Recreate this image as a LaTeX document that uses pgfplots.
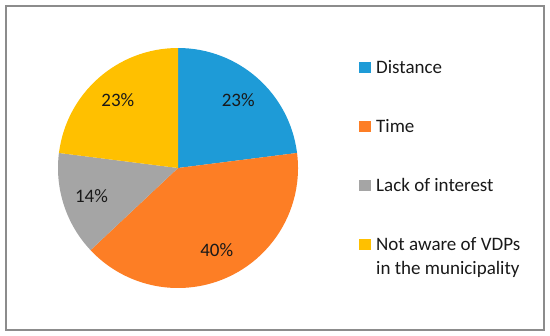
\documentclass[border=0pt]{standalone}
\usepackage{fontspec}
\setmainfont{Carlito}
\usepackage{pgfplots}
\usepackage{pgfplotstable}
\pgfplotsset{compat=1.18}

\definecolor{cDist}{RGB}{30,155,215}
\definecolor{cTime}{RGB}{253,126,37}
\definecolor{cLack}{RGB}{165,165,165}
\definecolor{cAware}{RGB}{255,192,0}
\definecolor{txt}{RGB}{25,25,25}

% share of each reason, in %
\pgfplotstableread[col sep=comma]{
value,color
23,cDist
40,cTime
14,cLack
23,cAware
}\piedata

\begin{document}
\begin{tikzpicture}[font=\fontsize{19bp}{23bp}\selectfont]
\useasboundingbox (0,0) rectangle (550bp,336bp);

% start, end and middle angle of each slice, clockwise from the top
\def\curangle{90}
\pgfplotsforeachungrouped \i in {0,...,3}{%
  \pgfplotstablegetelem{\i}{value}\of\piedata
  \let\val\pgfplotsretval
  \pgfmathsetmacro{\endangle}{\curangle-3.6*\val}
  \pgfmathsetmacro{\midangle}{(\curangle+\endangle)/2}
  \expandafter\xdef\csname sa\i\endcsname{\curangle}
  \expandafter\xdef\csname ea\i\endcsname{\endangle}
  \expandafter\xdef\csname ma\i\endcsname{\midangle}
  \expandafter\xdef\csname val\i\endcsname{\val}
  \pgfplotstablegetelem{\i}{color}\of\piedata
  \colorlet{slice\i}{\pgfplotsretval}
  \xdef\curangle{\endangle}
}

\begin{axis}[
    x=1bp, y=1bp,
    xmin=0, xmax=550, ymin=0, ymax=336,
    anchor=origin, at={(0,0)},
    hide axis, clip=false,
  ]
  \draw[black!45, line width=1.4bp] (axis cs:6,6) rectangle (axis cs:544,330);

  \pgfplotsinvokeforeach{0,...,3}{
    \fill[slice#1] (axis cs:178,168) -- ++(\csname sa#1\endcsname:120bp)
      arc[start angle=\csname sa#1\endcsname, end angle=\csname ea#1\endcsname, radius=120bp] -- cycle;
    \path (axis cs:178,168) ++(\csname ma#1\endcsname:91bp)
      node[text=txt] {\csname val#1\endcsname\%};
  }

  % legend
  \fill[cDist]  (axis cs:359,262.5) rectangle (axis cs:370.5,274);
  \fill[cTime]  (axis cs:359,203.5) rectangle (axis cs:370.5,215);
  \fill[cLack]  (axis cs:359,144.5) rectangle (axis cs:370.5,156);
  \fill[cAware] (axis cs:359,85.5)  rectangle (axis cs:370.5,97);
  \node[anchor=base west, inner sep=0, text=txt] at (axis cs:376,262.5) {Distance};
  \node[anchor=base west, inner sep=0, text=txt] at (axis cs:376,203.5) {Time};
  \node[anchor=base west, inner sep=0, text=txt] at (axis cs:376,144.5) {Lack of interest};
  \node[anchor=base west, inner sep=0, text=txt] at (axis cs:376,85.5) {Not aware of VDPs};
  \node[anchor=base west, inner sep=0, text=txt] at (axis cs:376,62) {in the municipality};
\end{axis}
\end{tikzpicture}
\end{document}
